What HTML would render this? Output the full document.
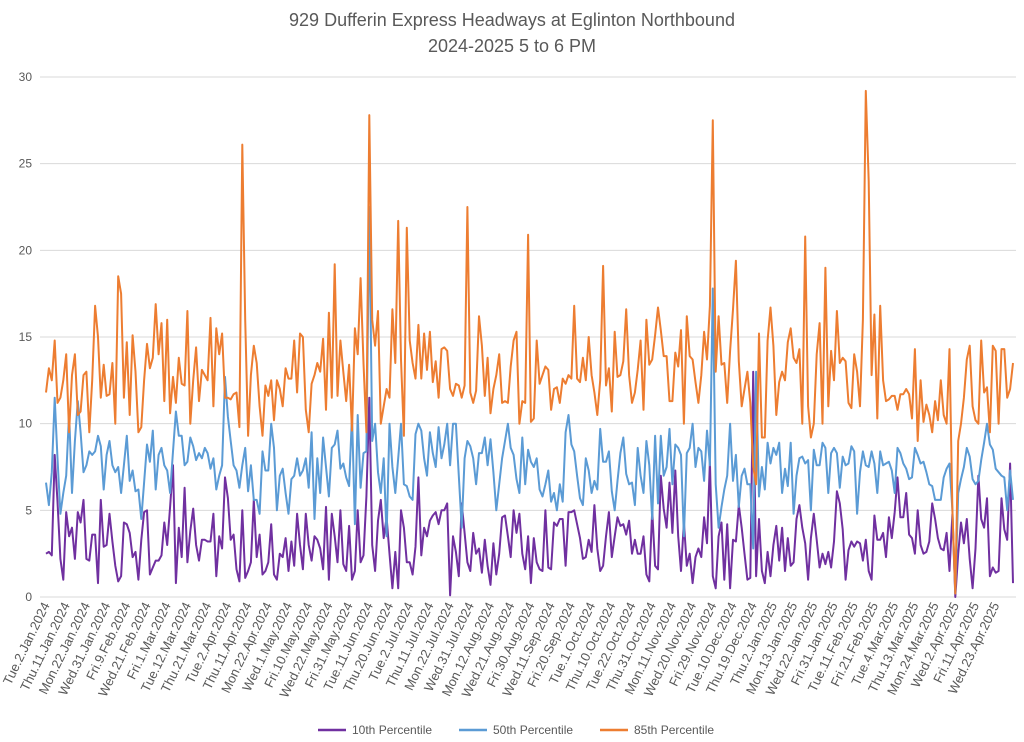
<!DOCTYPE html>
<html><head><meta charset="utf-8"><style>
body{margin:0;background:#fff;}
svg{display:block;font-family:"Liberation Sans",sans-serif;}
</style></head><body>
<svg id="chart" width="1024" height="742" viewBox="0 0 1024 742">
<text x="512" y="26" text-anchor="middle" font-size="18" fill="#595959">929 Dufferin Express Headways at Eglinton Northbound</text>
<text x="512" y="52" text-anchor="middle" font-size="18" fill="#595959">2024-2025 5 to 6 PM</text>
<g id="grid"></g><g id="ylab"></g><g id="xlab"></g><g id="series"></g>
<g font-size="12" fill="#595959">
<line x1="318" y1="730" x2="346" y2="730" stroke="#7030A0" stroke-width="2.5"/><text x="352" y="734">10th Percentile</text>
<line x1="459" y1="730" x2="487" y2="730" stroke="#5B9BD5" stroke-width="2.5"/><text x="493" y="734">50th Percentile</text>
<line x1="600" y1="730" x2="628" y2="730" stroke="#ED7D31" stroke-width="2.5"/><text x="634" y="734">85th Percentile</text>
</g>
</svg>
<script>
const yTicks=[0,5,10,15,20,25,30];
const xLabels=["Tue.2.Jan.2024","Thu.11.Jan.2024","Mon.22.Jan.2024","Wed.31.Jan.2024","Fri.9.Feb.2024","Wed.21.Feb.2024","Fri.1.Mar.2024","Tue.12.Mar.2024","Thu.21.Mar.2024","Tue.2.Apr.2024","Thu.11.Apr.2024","Mon.22.Apr.2024","Wed.1.May.2024","Fri.10.May.2024","Wed.22.May.2024","Fri.31.May.2024","Tue.11.Jun.2024","Thu.20.Jun.2024","Tue.2.Jul.2024","Thu.11.Jul.2024","Mon.22.Jul.2024","Wed.31.Jul.2024","Mon.12.Aug.2024","Wed.21.Aug.2024","Fri.30.Aug.2024","Wed.11.Sep.2024","Fri.20.Sep.2024","Tue.1.Oct.2024","Thu.10.Oct.2024","Tue.22.Oct.2024","Thu.31.Oct.2024","Mon.11.Nov.2024","Wed.20.Nov.2024","Fri.29.Nov.2024","Tue.10.Dec.2024","Thu.19.Dec.2024","Thu.2.Jan.2025","Mon.13.Jan.2025","Wed.22.Jan.2025","Fri.31.Jan.2025","Tue.11.Feb.2025","Fri.21.Feb.2025","Tue.4.Mar.2025","Thu.13.Mar.2025","Mon.24.Mar.2025","Wed.2.Apr.2025","Fri.11.Apr.2025","Wed.23.Apr.2025"];
const p85=[11.8,13.2,12.5,14.8,11.2,11.5,12.5,14,9.5,12.8,14,10.5,10.7,12.8,13,9.5,12.5,16.8,15,11.5,13.4,11.6,11.7,13.5,10,18.5,17.5,11.5,14.7,10.5,15.1,13,9.5,9.8,12.5,14.6,13.2,13.8,16.9,14,15.8,11.3,16,10.6,12.7,11.2,13.8,12.3,12.2,16.5,10,12.5,14.4,11.3,13.1,12.8,12.5,16.1,11,15.5,14,15.2,11.5,11.5,11.4,11.7,11.8,9.8,26.1,16,9.3,12.8,14.5,13.5,11,9.3,12.2,11.6,12.5,10.2,12.5,12,11,13.2,12.6,12.6,14.8,11.8,15.2,15,10.8,9.5,12.3,12.8,13.5,13,14.9,10.8,16.4,11.5,19.2,11.6,14.8,13,11.3,13.4,9.6,15.5,14,18.4,13.5,9.5,27.8,16,14.5,16.5,10,11,12,11.5,16.6,13.5,21.7,13.7,9.3,21.3,14.8,13.5,12.6,15.7,12.6,15.2,13.1,15.3,12.4,13.6,11.5,14.3,14.4,14.2,12,11.6,12.3,12.2,11.5,12.2,22.5,11.8,11.2,11.9,16.2,14.5,11.6,13.8,10.6,12,12.8,14,11.2,11.3,11.2,13.3,14.8,15.3,10,11.3,11.2,20.9,10.1,10.3,14.8,12.3,12.8,13.3,13.1,10.8,12,12.1,11.2,12.6,12.3,12.8,12.6,16.8,12.6,12.4,13.8,12.5,15,12.8,11.8,10.5,12.5,19.1,12.2,13.2,10.7,15.3,12.7,12.8,13.6,16.6,12.8,11.2,11.8,13.1,14.8,10.8,16,13.4,13.7,15.1,16.7,15.4,13.9,13.9,11.3,11.3,14.1,13.3,15.4,10,16.2,13.9,13.7,12.4,11.2,12.8,15.3,13.7,16.8,27.5,13,16.2,13.4,13.5,11.2,14.2,16.6,19.4,13.6,11,12,13,11.2,7.5,6.5,15.2,9.2,9.2,14.8,16.7,14.5,10.5,12.4,13,12.5,14.7,15.5,13.8,13.5,14.3,10,20.8,11,9.2,10,14,15.8,10,19,11,14.2,12.5,16.5,13.5,13.8,13.6,11.2,10.9,14,13,11,16,29.2,24,12.8,16.3,10.3,16.8,12.5,11.3,11.4,11.6,11.6,10.8,11.7,11.7,12,11.7,10.3,14.3,9,12.5,10.1,11.1,10.5,9.5,11.3,10.2,12.5,10.5,10,14.3,5,0.2,9,10,11.5,13.7,14.5,11,10.2,10,14.8,11.8,12.1,9.5,14.5,14.2,10,14.3,14.3,11.5,12,13.5];
const p50=[6.6,5.3,7.2,11.5,8,4.8,6,7,10.6,6,9,11.3,9.5,7.2,7.6,8.4,8.2,8.4,9.3,8.7,6.2,8.2,9,7.6,7.2,7.5,6,7.6,9.3,6.7,7.3,6.1,6.2,4.5,6.6,8.8,7.8,9.6,6.2,8.2,8.6,7.6,7.3,6,8.4,10.7,9.3,9.3,7.6,7.8,9.2,8.7,7.9,8.3,8,8.6,8.3,7.4,8,6.2,7,7.6,12.7,10.4,9,7.6,7.3,6.3,7.6,8.6,6.1,7.6,5.6,5.6,4.8,8.4,7.3,7.3,10,8.6,5,7,7.4,6,4.8,6.8,7,8,7,7.3,8,6.3,9.5,4.5,8,6,9.2,7.5,5.8,8.6,8.8,9.6,7.4,7.7,6.9,6.4,10.5,4.2,10.5,6.3,8.3,8.4,22.5,9,10,7.2,6,8,3.5,10,7.5,6,8,10,6.5,6.4,5.8,5.6,9.4,10,9.6,8,7,9.5,8.3,7.5,9.8,8,8.8,10,7.6,10,10,7,4,8,9,8.7,8,6.5,8.3,8.3,9.2,7.6,9.1,7.2,5,6.5,8,9,10,8.6,8.2,6.8,6,9.2,6.5,8.5,7.8,7.5,8,6.2,5.8,6.5,7.3,5.5,6,5,6.5,5.5,9.5,10.5,8.8,8.4,7,5.7,5.3,8,7.3,6,6.7,6.2,9.7,7.8,7.8,8.4,6.1,5,6.7,8.3,9.2,7.1,6.5,6.6,5.3,8.6,7,6,9,7.6,4.5,9.3,5.4,9.3,7,7.5,9.7,6.5,8.8,8.6,8.2,3.5,8.3,8.6,10,7.5,8.6,8.4,6.7,9.6,7.6,17.8,6.5,4,5.2,6.2,7,10,6.7,8.2,5.2,7,7.4,6.5,6.5,2.8,13,5.8,7.5,6.2,8.9,7.7,8.6,8.2,8.9,6,7.4,6.4,8.9,4.8,7,8,8.1,7.7,7.9,5,8.5,7.6,7.6,8.9,8.6,6,8.3,8.6,8.3,6.3,8.1,7.6,7.7,8.7,8.4,4.8,7.2,8.4,7.6,7.5,8.4,7.7,6,8.4,7.6,7.7,7.8,7.3,6,8.6,8.3,7.7,7.4,6.8,6.9,8.6,8.2,7.7,7.8,7.2,6.5,6.4,5.6,5.6,5.6,6.9,7.4,7.7,5,0.2,6,6.8,7.5,8.6,8.1,6.8,6.5,6.7,7.9,8.9,10,8.8,8.5,7.4,7.2,7,6.9,5,7.3,5.6];
const p10=[2.5,2.6,2.4,8.2,5.5,2.2,1,4.9,3.5,4,2.2,4.9,4.3,5.6,2.2,2.1,3.6,3.6,0.8,5.6,2.9,3,4.8,3.2,1.8,0.9,1.2,4.3,4.2,3.7,2.3,2.6,1,3.3,4.9,5,1.3,1.7,2.1,2.1,2.4,4.3,3,5.2,7.6,0.8,4,2.3,6.3,2,3.8,5.1,3,2.1,3.3,3.3,3.2,3.2,4.8,1.2,3.5,2.8,6.9,5.7,3.3,3.6,1.6,0.9,5,1.1,1.5,2,5.6,2.3,3.6,1.3,1.5,2,4.2,1.3,1,2.5,2.3,3.4,1.5,3.2,1.8,4.8,3,1.6,4.8,3,2.1,3.5,3.3,2.8,1.6,5.2,1,4.8,3.5,2,5,1.9,1.5,4.1,1,1.5,5,2,2.4,5.8,11.5,3,1.5,4.4,5.6,3.4,4.6,2.5,0.5,2.6,0.5,5,4,2,2,1.3,2.9,6.9,2.4,4,3.5,4.4,4.7,4.9,4.2,5,5,5.4,0.1,3.5,2.6,1.2,5.4,3.7,2,1.5,3.7,2.5,2.8,1.4,3.3,1.8,0.7,3.1,1.3,2.5,4.6,4.7,3.5,2.3,5,3.7,4.8,2.5,1.6,3.5,0.8,3.4,2,1.6,1.5,5,1.7,1.6,4.3,4.1,4.5,4.5,1.8,4.9,4.9,5,4.2,3.4,2.2,2.3,3.3,2.6,5.3,2.8,1.5,1.8,3.5,4.9,2.3,3.5,4.6,4.1,4.2,3.6,4.4,2.5,3.3,2.5,2.5,3.5,1.3,0.9,5,1.8,1.6,7,5.1,4,6.6,3.7,7.3,3.5,1.5,4.3,1.8,2.5,0.8,2.3,2.8,2.3,4.6,3.1,7.8,1.2,0.5,3.5,4.3,1,4.2,0.5,3.3,3.2,5.3,4,2.5,1,1.1,13,1.2,4.5,1.5,0.8,2.6,1.2,3,4.1,2.1,4,1.5,3.4,1.8,2,4.5,5.3,4,3.1,1,3.4,4.8,3.3,1.7,2.5,1.9,2.6,1.7,3.2,6.1,5.4,3.9,1,2.7,3.2,2.9,3.2,3.1,2.1,3.3,1.5,1,4.7,3.3,3.3,3.7,2.3,4.6,3.4,4.9,6.9,4.6,4.6,6,3.6,3.4,2.5,5,3,2.5,2.6,3.2,5.4,4.5,3.4,2.8,2.7,3.7,1.5,4.8,0,2.5,4.3,3.1,4.5,2.2,0.5,2.8,7,4.5,4,5.7,1.2,1.7,1.4,1.5,5.7,3.9,3.3,7.7,0.8];
const labelEvery=7;
const NS="http://www.w3.org/2000/svg";
const X0=46,X1=1013,Y0=597,Y1=77;
const n=p85.length;
function xs(i){return X0+i*(X1-X0)/(n-1);}
function ys(v){return Y0-(v/30)*(Y0-Y1);}
function mk(t,a,p){const e=document.createElementNS(NS,t);for(const k in a)e.setAttribute(k,a[k]);p.appendChild(e);return e;}
const grid=document.getElementById('grid'),ylab=document.getElementById('ylab'),xlab=document.getElementById('xlab'),ser=document.getElementById('series');
yTicks.forEach(v=>{
  const l=mk('line',{x1:40,x2:1016,y1:ys(v),y2:ys(v),stroke:'#d9d9d9','stroke-width':1},grid);
  
  
  const t=mk('text',{x:32,y:ys(v)+4,'text-anchor':'end','font-size':12,fill:'#595959'},ylab);
  
  
  t.textContent=v;
});
xLabels.forEach((s,k)=>{
  const x=xs(k*labelEvery)+4,y=605;
  const t=mk('text',{x:x,y:y,'text-anchor':'end','font-size':13,fill:'#595959',transform:'rotate(-64 '+x+' '+y+')'},xlab);
  
  
  t.textContent=s;
});
[[p10,'#7030A0','line-10th-percentile'],[p50,'#5B9BD5','line-50th-percentile'],[p85,'#ED7D31','line-85th-percentile']].forEach(([d,c,nm])=>{
  const pts=d.map((v,i)=>xs(i).toFixed(1)+','+ys(v).toFixed(1)).join(' ');
  const pl=mk('polyline',{points:pts,fill:'none',stroke:c,'stroke-width':2,'stroke-linejoin':'round'},ser);
  
  
});
</script>
</body></html>
